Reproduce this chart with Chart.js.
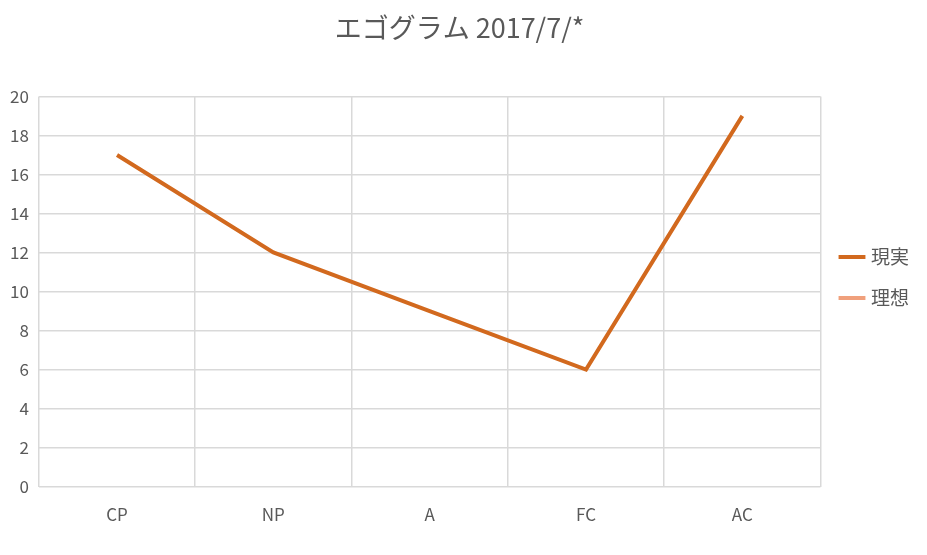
<!DOCTYPE html>
<html><head><meta charset="utf-8">
<script src="https://cdn.jsdelivr.net/npm/chart.js@4"></script>
<style>html,body{margin:0;padding:0;background:#fff}#w{width:927px;height:555px}</style>
</head><body><div id="w"><canvas id="c"></canvas></div>
<script>
const categories = ["CP","NP","A","FC","AC"];
const actual = [17,12,9,6,19];
const ideal = [null,null,null,null,null];
const seriesNames = ["現実","理想"];
const font = "'Noto Sans CJK JP', 'Open Sans', sans-serif";
new Chart(document.getElementById('c'), {
  type:'line',
  data:{labels:categories,datasets:[
    {label:seriesNames[0],data:actual,borderColor:'#D2691E',backgroundColor:'#D2691E',borderWidth:4,pointRadius:0,tension:0},
    {label:seriesNames[1],data:ideal,borderColor:'#F0A07C',backgroundColor:'#F0A07C',borderWidth:4,pointRadius:0}
  ]},
  options:{responsive:true,maintainAspectRatio:false,animation:false,
    layout:{padding:{left:0,right:8,top:12,bottom:12}},
    plugins:{
      title:{display:true,text:'エゴグラム 2017/7/*',color:'#595959',font:{family:font,size:27,weight:'normal'},padding:{top:0,bottom:52}},
      legend:{position:'right',labels:{usePointStyle:true,pointStyle:'line',boxWidth:52,color:'#595959',font:{family:font,size:19},padding:22}}
    },
    scales:{
      x:{offset:true,grid:{offset:true,color:'#d9d9d9',lineWidth:1.5,drawTicks:false},border:{color:'#d9d9d9'},ticks:{color:'#595959',font:{family:font,size:17},padding:18}},
      y:{min:0,max:20,ticks:{stepSize:2,color:'#595959',font:{family:font,size:17},padding:10},grid:{color:'#d9d9d9',lineWidth:1.5,drawTicks:false},border:{display:false}}
    }
  }
});
</script></body></html>
